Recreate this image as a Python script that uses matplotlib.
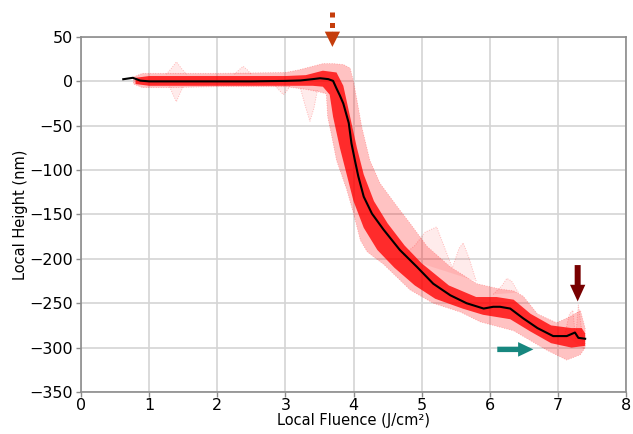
import numpy as np
import matplotlib
matplotlib.use("Agg")
import matplotlib.pyplot as plt

# ---------------- data ----------------
mean_x = [0.62, 0.76, 0.87, 1.0, 1.5, 2.0, 2.5, 3.0, 3.22, 3.4, 3.51, 3.63, 3.70,
          3.75, 3.80, 3.85, 3.93, 3.97, 4.02, 4.07, 4.15, 4.27, 4.44, 4.68, 4.93,
          5.17, 5.42, 5.66, 5.91, 6.05, 6.15, 6.30, 6.49, 6.70, 6.93, 7.13, 7.25,
          7.30, 7.40]
mean_y = [2.4, 4.0, 0.8, 0.0, 0.0, 0.0, 0.0, 0.5, 1.0, 2.5, 3.5, 2.5, 0.5,
          -8, -16, -25, -47, -70, -89, -107, -130, -149, -167, -190, -209,
          -228, -241, -250, -256, -254, -254, -256, -267, -278, -287, -287, -283,
          -289, -290]

# outer envelope of all red traces
outer_up_x = [0.77, 0.9, 1.3, 2.0, 3.0, 3.2, 3.4, 3.55, 3.7, 3.85, 3.95, 4.0, 4.06,
              4.12, 4.24, 4.39, 4.64, 4.83, 5.08, 5.42, 5.81, 6.15, 6.35, 6.49, 6.70,
              6.98, 7.18, 7.33, 7.40]
outer_up_y = [5, 9, 9, 9, 10, 13, 17, 20, 20, 19, 15, 0, -25,
              -51, -89, -115, -141, -160, -186, -209, -228, -234, -236, -242, -262,
              -272, -265, -258, -278]
outer_lo_x = [0.77, 0.9, 1.3, 2.0, 3.0, 3.3, 3.5, 3.6, 3.62, 3.67, 3.75, 3.90, 4.0,
              4.10, 4.20, 4.30, 4.44, 4.83, 5.17, 5.57, 5.86, 6.35, 6.84, 7.13, 7.33,
              7.40]
outer_lo_y = [-3, -7, -7, -6, -6, -9, -12, -14, -40, -58, -89, -122, -149,
              -179, -192, -198, -206, -235, -250, -260, -271, -281, -303, -314, -308,
              -300]

# dense core of the traces
core_up_x = [0.8, 1.0, 2.0, 3.0, 3.3, 3.55, 3.75, 3.85, 3.95, 4.05, 4.15, 4.30,
             4.50, 4.75, 5.0, 5.4, 5.8, 6.1, 6.35, 6.6, 6.9, 7.2, 7.35, 7.4]
core_up_y = [4, 6, 6, 6, 7, 12, 10, -5, -40, -75, -105, -135,
             -160, -185, -205, -230, -243, -243, -246, -262, -275, -278, -278, -284]
core_lo_x = [0.8, 1.0, 2.0, 3.0, 3.4, 3.55, 3.65, 3.70, 3.80, 3.90, 4.0, 4.15,
             4.35, 4.60, 4.90, 5.20, 5.60, 5.90, 6.30, 6.60, 6.90, 7.20, 7.4]
core_lo_y = [-3, -5, -5, -5, -5, -6, -15, -40, -75, -105, -135, -165,
             -190, -210, -230, -245, -256, -263, -268, -282, -295, -300, -298]

# faint outlier traces
outliers = [
    ([1.25, 1.32, 1.40, 1.48, 1.55], [8, 14, 22, 14, 8]),
    ([1.30, 1.35, 1.40, 1.45, 1.50], [-6, -15, -23, -14, -6]),
    ([2.25, 2.32, 2.38, 2.44, 2.50], [8, 13, 17, 13, 8]),
    ([2.85, 2.92, 2.97, 3.02, 3.07], [-5, -11, -15, -11, -5]),
    ([3.22, 3.30, 3.36, 3.42, 3.47], [-8, -30, -45, -30, -10]),
    ([4.70, 4.90, 5.05, 5.22, 5.35, 5.45, 5.55, 5.61, 5.70, 5.80],
     [-198, -185, -170, -164, -190, -210, -188, -182, -200, -225]),
    ([6.05, 6.18, 6.25, 6.32, 6.42], [-240, -230, -222, -225, -238]),
    ([7.10, 7.17, 7.22, 7.26, 7.30, 7.34, 7.38], [-285, -262, -258, -290, -252, -275, -302]),
]

x_ticks = [0, 1, 2, 3, 4, 5, 6, 7, 8]
y_ticks = [50, 0, -50, -100, -150, -200, -250, -300, -350]

# ---------------- figure ----------------
fig = plt.figure(figsize=(6.33, 4.34), dpi=100)
ax = fig.add_axes([0.128, 0.0968, 0.861, 0.818])

grid_c = "#d4d4d4"
spine_c = "#8c8c8c"
ax.set_axisbelow(True)
ax.grid(True, color=grid_c, lw=1.2)

# outer envelope
ox = np.concatenate([outer_up_x, outer_lo_x[::-1]])
oy = np.concatenate([outer_up_y, outer_lo_y[::-1]])
ax.fill(ox, oy, color="#ff0000", alpha=0.24, lw=0, zorder=2)
ax.fill(ox, oy, facecolor="none", edgecolor="#ff0000", alpha=0.3, lw=0.6,
        ls=(0, (1, 2)), zorder=2)
# core
cx = np.concatenate([core_up_x, core_lo_x[::-1]])
cy = np.concatenate([core_up_y, core_lo_y[::-1]])
ax.fill(cx, cy, color="#ff0000", alpha=0.78, lw=0, zorder=3)

for xs, ys in outliers:
    ax.fill(xs, ys, color="#ff0000", alpha=0.08, lw=0, zorder=2)
    ax.plot(xs, ys, color="#ff0000", alpha=0.25, lw=0.7, ls=(0, (1, 1.5)), zorder=2)

ax.plot(mean_x, mean_y, color="black", lw=1.5, zorder=5)

ax.set_xlim(0, 8)
ax.set_ylim(-350, 50)
ax.set_xticks(x_ticks)
ax.set_yticks(y_ticks)
for s in ax.spines.values():
    s.set_color(spine_c)
    s.set_linewidth(1.2)
ax.tick_params(colors=spine_c, labelcolor="black", labelsize=11.5, length=3.5,
               width=1, pad=2)
ax.tick_params(axis="x", pad=1)
ax.set_xlabel("Local Fluence (J/cm²)", fontsize=10.5)
ax.xaxis.set_label_coords(0.5, -0.06)
ax.set_ylabel("Local Height (nm)", fontsize=10.5)
ax.yaxis.set_label_coords(-0.097, 0.5)

# ---------------- arrows ----------------
orange = "#C53D0C"
ax.plot([3.69, 3.69], [78, 55.5], color=orange, lw=3.6, ls=(0, (1, 1.1)),
        solid_capstyle="butt", dash_capstyle="butt", clip_on=False, zorder=6)
ax.annotate("", xy=(3.69, 38.8), xytext=(3.69, 56.5), annotation_clip=False,
            arrowprops=dict(arrowstyle="simple,head_length=11,head_width=11,tail_width=0.1",
                            mutation_scale=1, color=orange, shrinkA=0, shrinkB=0, lw=0))

ax.annotate("", xy=(7.29, -248), xytext=(7.29, -207), annotation_clip=False,
            arrowprops=dict(arrowstyle="simple,head_length=12,head_width=11,tail_width=4.3",
                            mutation_scale=1, color="#780000", shrinkA=0, shrinkB=0, lw=0))

ax.annotate("", xy=(6.64, -302), xytext=(6.11, -302), annotation_clip=False,
            arrowprops=dict(arrowstyle="simple,head_length=11,head_width=10.5,tail_width=3.9",
                            mutation_scale=1, color="#17877F", shrinkA=0, shrinkB=0, lw=0))

fig.savefig("out.png", dpi=100)
